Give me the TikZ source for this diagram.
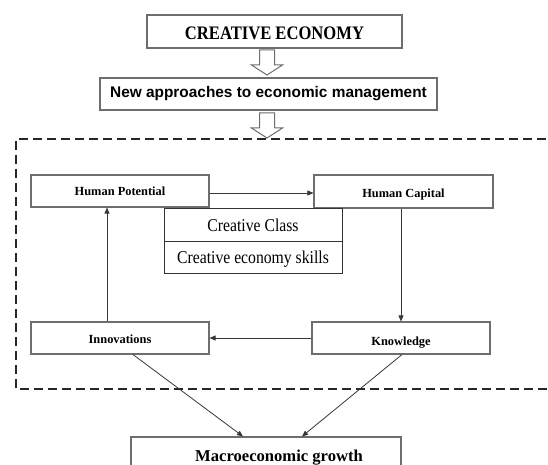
\documentclass[tikz,border=0pt]{standalone}
\usepackage{fontspec}
\setmainfont{Liberation Serif}
\newfontfamily\sansf{Liberation Sans}
\usetikzlibrary{arrows.meta,calc}
\definecolor{framegray}{RGB}{110,110,110}
\definecolor{linkgray}{RGB}{55,55,55}
\newcommand\downblock[1]{%
  \draw[hollow] (#1) ++(-7.5,0) -- ++(15,0) -- ++(0,15) -- ++(8,0)
    -- ++(-15.5,10) -- ++(-15.5,-10) -- ++(8,0) -- cycle;}
\newcommand\tallertext[1]{\scalebox{1}[1.15]{#1}}
\begin{document}
\begin{tikzpicture}[x=1pt,y=-1pt,
  box/.style={draw=framegray, line width=1.1pt, inner sep=0pt, rectangle},
  classbox/.style={draw=black!80, line width=1pt, inner sep=0pt, rectangle,
    minimum width=178, font=\fontsize{15.7}{17}\selectfont,
    text height=17pt, text depth=4pt},
  small/.style={font=\fontsize{12.4}{14}\selectfont\bfseries, text depth=3pt},
  link/.style={draw=linkgray, line width=0.8pt, -{Triangle[length=6pt,width=5pt]}},
  hollow/.style={draw=framegray, line width=1pt, fill=white},
  frame/.style={draw=black!85, line width=1.4pt, dash pattern=on 9pt off 5pt}]
\clip (0,0) rectangle (548,465);
\fill[white] (0,0) rectangle (548,465);

% top of the scheme
\node[box, minimum width=255, minimum height=33, text height=19.6pt, text depth=4pt]
  (ce) at (274.5,31.5)
  {\fontsize{16.6}{18}\selectfont\bfseries\tallertext{CREATIVE ECONOMY}};
\node[box, minimum width=337, minimum height=32, text height=12pt, text depth=4pt]
  (na) at (268.5,94)
  {\sansf\fontsize{15.4}{17}\selectfont\bfseries New approaches to economic management};
\coordinate (d1) at (267,50);
\coordinate (d2) at (267,113);
\downblock{d1}
\downblock{d2}

% dashed frame, open on the right
\draw[frame] (560,139) -- (16,139) -- (16,389) -- (560,389);

% inner cycle
\node[box, small, minimum width=178, minimum height=32, text height=11pt]
  (hp) at (120,191) {Human Potential};
\node[box, small, minimum width=179, minimum height=33, text height=14pt]
  (hc) at (403.5,191.5) {Human Capital};
\node[classbox, minimum height=33] (cc) at (253,224.5) {\tallertext{Creative Class}};
\node[classbox, minimum height=32] (sk) at (253,257) {\tallertext{Creative economy skills}};
\node[box, small, minimum width=178, minimum height=32, text height=13pt]
  (inn) at (120,338) {Innovations};
\node[box, small, minimum width=178, minimum height=32, text height=17pt]
  (kn) at (401,338) {Knowledge};

% result
\node[box, minimum width=270, minimum height=38] (macro) at (266,456) {};
\node[font=\fontsize{16.6}{18}\selectfont\bfseries, inner sep=0pt,
  text height=14pt, text depth=4pt] (macrot) at (279,456) {Macroeconomic growth};

% connectors
\draw[link] ($(hp.east)+(0,2)$) -- ($(hc.west)+(0,1.5)$);
\draw[link] ($(hc.south)+(-2.5,0)$) -- (kn.north);
\draw[link] (kn.west) -- (inn.east);
\draw[link] ($(inn.north)+(-13,0)$) -- ($(hp.south)+(-13,0)$);
\draw[link] ($(inn.south)+(13,0)$) -- ($(macro.north)+(-23,0)$);
\draw[link] ($(kn.south)+(1,0)$) -- ($(macro.north)+(36,0)$);
\end{tikzpicture}
\end{document}
